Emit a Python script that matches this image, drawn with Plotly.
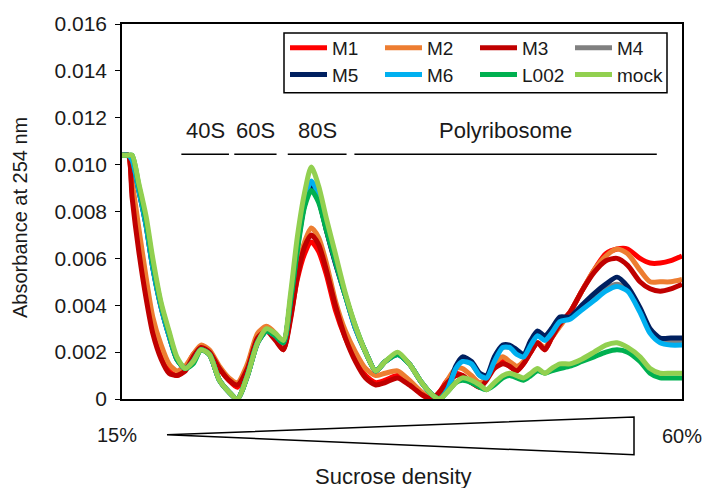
import plotly.graph_objects as go

# Position along the gradient (0 = top of tube, 100 = bottom)
fraction_pos = [0.0, 1.1, 1.8, 3.0, 4.3, 5.5, 7.0, 8.4, 9.8, 11.3,
                12.7, 14.1, 15.6, 17.4, 19.1, 20.6, 22.4, 24.2, 25.8, 27.4,
                28.8, 30.1, 31.3, 32.6, 33.8, 35.1, 36.5, 38.1, 39.9, 41.7,
                43.5, 45.3, 47.0, 49.2, 51.3, 53.5, 55.3, 56.7, 58.1, 59.6,
                60.8, 62.4, 63.9, 65.1, 66.5, 68.0, 69.2, 70.5, 71.7, 73.0,
                74.2, 75.5, 76.7, 78.2, 80.0, 82.1, 84.3, 86.4, 88.4, 90.3,
                92.5, 94.3, 96.1, 98.0, 100.0]

m1 = [0.0104, 0.0104, 0.0089, 0.0067, 0.0046, 0.0030, 0.0019, 0.0012, 0.0010, 0.0013,
      0.0019, 0.0022, 0.0020, 0.0013, 0.0008, 0.0005, 0.0014, 0.0027, 0.0030, 0.0026,
      0.0021, 0.0035, 0.0051, 0.0062, 0.0067, 0.0063, 0.0053, 0.0038, 0.0026, 0.0017,
      0.0010, 0.0007, 0.0008, 0.0010, 0.0007, 0.0002, 0.0000, 0.0003, 0.0008, 0.0011,
      0.0010, 0.0007, 0.0005, 0.0009, 0.0014, 0.0016, 0.0014, 0.0012, 0.0015, 0.0020,
      0.0024, 0.0021, 0.0026, 0.0032, 0.0037, 0.0046, 0.0055, 0.0062, 0.0064, 0.0064,
      0.0060, 0.0058, 0.0058, 0.0059, 0.0061]

m2 = [0.0104, 0.0104, 0.0093, 0.0073, 0.0052, 0.0035, 0.0023, 0.0015, 0.0012, 0.0014,
      0.0019, 0.0023, 0.0021, 0.0014, 0.0009, 0.0007, 0.0015, 0.0028, 0.0031, 0.0028,
      0.0023, 0.0036, 0.0054, 0.0067, 0.0073, 0.0069, 0.0058, 0.0042, 0.0029, 0.0020,
      0.0013, 0.0010, 0.0011, 0.0012, 0.0008, 0.0003, 0.0000, 0.0002, 0.0008, 0.0013,
      0.0013, 0.0010, 0.0007, 0.0009, 0.0015, 0.0018, 0.0016, 0.0014, 0.0016, 0.0021,
      0.0024, 0.0022, 0.0026, 0.0031, 0.0037, 0.0046, 0.0055, 0.0061, 0.0064, 0.0062,
      0.0055, 0.0050, 0.0050, 0.0050, 0.0051]

m3 = [0.0104, 0.0104, 0.0086, 0.0063, 0.0043, 0.0028, 0.0017, 0.0011, 0.0010, 0.0012,
      0.0018, 0.0022, 0.0020, 0.0013, 0.0008, 0.0006, 0.0013, 0.0026, 0.0029, 0.0025,
      0.0021, 0.0034, 0.0052, 0.0065, 0.0070, 0.0066, 0.0055, 0.0040, 0.0026, 0.0016,
      0.0009, 0.0006, 0.0007, 0.0009, 0.0006, 0.0002, 0.0000, 0.0003, 0.0007, 0.0010,
      0.0010, 0.0007, 0.0005, 0.0008, 0.0013, 0.0015, 0.0014, 0.0012, 0.0015, 0.0020,
      0.0024, 0.0021, 0.0026, 0.0032, 0.0037, 0.0046, 0.0054, 0.0059, 0.0060, 0.0057,
      0.0050, 0.0047, 0.0046, 0.0047, 0.0049]

m4 = [0.0104, 0.0104, 0.0102, 0.0089, 0.0074, 0.0056, 0.0039, 0.0027, 0.0017, 0.0013,
      0.0016, 0.0021, 0.0019, 0.0008, 0.0003, 0.0000, 0.0010, 0.0024, 0.0029, 0.0027,
      0.0024, 0.0042, 0.0064, 0.0083, 0.0090, 0.0085, 0.0072, 0.0058, 0.0044, 0.0030,
      0.0020, 0.0012, 0.0016, 0.0019, 0.0015, 0.0007, 0.0002, 0.0000, 0.0004, 0.0013,
      0.0017, 0.0015, 0.0010, 0.0009, 0.0017, 0.0022, 0.0022, 0.0020, 0.0018, 0.0024,
      0.0028, 0.0026, 0.0029, 0.0034, 0.0035, 0.0039, 0.0043, 0.0047, 0.0049, 0.0047,
      0.0038, 0.0029, 0.0025, 0.0025, 0.0025]

m5 = [0.0104, 0.0104, 0.0102, 0.0089, 0.0074, 0.0056, 0.0039, 0.0027, 0.0017, 0.0013,
      0.0016, 0.0021, 0.0019, 0.0008, 0.0003, 0.0000, 0.0010, 0.0024, 0.0029, 0.0027,
      0.0024, 0.0042, 0.0065, 0.0083, 0.0091, 0.0085, 0.0072, 0.0058, 0.0044, 0.0030,
      0.0020, 0.0012, 0.0016, 0.0019, 0.0015, 0.0007, 0.0002, 0.0000, 0.0004, 0.0014,
      0.0018, 0.0016, 0.0011, 0.0010, 0.0018, 0.0023, 0.0023, 0.0021, 0.0019, 0.0025,
      0.0029, 0.0027, 0.0030, 0.0035, 0.0035, 0.0040, 0.0045, 0.0049, 0.0052, 0.0048,
      0.0039, 0.0030, 0.0026, 0.0026, 0.0026]

m6 = [0.0104, 0.0104, 0.0102, 0.0089, 0.0074, 0.0056, 0.0039, 0.0027, 0.0017, 0.0013,
      0.0016, 0.0021, 0.0019, 0.0008, 0.0003, 0.0000, 0.0010, 0.0024, 0.0029, 0.0027,
      0.0024, 0.0043, 0.0066, 0.0085, 0.0093, 0.0087, 0.0073, 0.0059, 0.0044, 0.0030,
      0.0020, 0.0012, 0.0016, 0.0019, 0.0015, 0.0007, 0.0002, 0.0000, 0.0004, 0.0013,
      0.0016, 0.0015, 0.0010, 0.0009, 0.0016, 0.0022, 0.0022, 0.0019, 0.0018, 0.0023,
      0.0027, 0.0025, 0.0028, 0.0033, 0.0034, 0.0038, 0.0042, 0.0046, 0.0048, 0.0046,
      0.0037, 0.0028, 0.0024, 0.0023, 0.0023]

l002 = [0.0104, 0.0104, 0.0104, 0.0091, 0.0076, 0.0058, 0.0040, 0.0028, 0.0017, 0.0013,
        0.0015, 0.0021, 0.0019, 0.0008, 0.0003, 0.0000, 0.0010, 0.0024, 0.0029, 0.0027,
        0.0024, 0.0042, 0.0063, 0.0082, 0.0089, 0.0084, 0.0072, 0.0059, 0.0044, 0.0031,
        0.0020, 0.0012, 0.0016, 0.0019, 0.0015, 0.0007, 0.0002, 0.0000, 0.0003, 0.0007,
        0.0008, 0.0007, 0.0005, 0.0004, 0.0006, 0.0009, 0.0010, 0.0009, 0.0008, 0.0010,
        0.0012, 0.0011, 0.0012, 0.0013, 0.0014, 0.0016, 0.0018, 0.0020, 0.0021, 0.0020,
        0.0016, 0.0011, 0.0009, 0.0009, 0.0009]

mock = [0.0104, 0.0104, 0.0104, 0.0092, 0.0078, 0.0060, 0.0041, 0.0029, 0.0018, 0.0013,
        0.0016, 0.0021, 0.0019, 0.0008, 0.0003, 0.0000, 0.0010, 0.0024, 0.0030, 0.0028,
        0.0025, 0.0045, 0.0069, 0.0088, 0.0099, 0.0091, 0.0077, 0.0062, 0.0045, 0.0031,
        0.0020, 0.0012, 0.0016, 0.0020, 0.0015, 0.0007, 0.0002, 0.0000, 0.0003, 0.0007,
        0.0009, 0.0008, 0.0006, 0.0004, 0.0007, 0.0010, 0.0011, 0.0010, 0.0009, 0.0011,
        0.0013, 0.0011, 0.0013, 0.0015, 0.0015, 0.0017, 0.0020, 0.0023, 0.0024, 0.0022,
        0.0018, 0.0013, 0.0011, 0.0011, 0.0011]

series_names = ["M1", "M2", "M3", "M4", "M5", "M6", "L002", "mock"]
series_values = [m1, m2, m3, m4, m5, m6, l002, mock]

# Ribosome fractions along the gradient
band_labels = ["40S", "60S", "80S", "Polyribosome"]
band_start = [10.6, 20.05, 29.6, 41.5]
band_end = [19.1, 27.6, 40.1, 95.5]

y_tick_vals = [0, 0.002, 0.004, 0.006, 0.008, 0.010, 0.012, 0.014, 0.016]
y_tick_text = ["0", "0.002", "0.004", "0.006", "0.008", "0.010", "0.012", "0.014", "0.016"]

gradient_labels = ["15%", "60%"]

# ---- styling ----
FONT = "Liberation Sans, Arial, sans-serif"
TXT = "#1a1a1a"
colors = {"M1": "#FF0000", "M2": "#ED7D31", "M3": "#C00000", "M4": "#808080",
          "M5": "#002060", "M6": "#00B0F0", "L002": "#00B050", "mock": "#92D050"}

W, H = 705, 488
ML, MR, MT, MB = 122, 23, 22, 89
PW, PH = W - ML - MR, H - MT - MB


def px(x):
    return (x - ML) / PW


def py(y):
    return (H - MB - y) / PH


fig = go.Figure()
for i, (name, vals) in enumerate(zip(series_names, series_values)):
    fig.add_trace(go.Scatter(
        x=fraction_pos, y=vals, name=name, mode="lines",
        line=dict(color=colors[name], width=5, shape="spline", smoothing=0.7),
        legend="legend" if i < 4 else "legend2",
        hoverinfo="skip",
    ))

legend_common = dict(orientation="h", xanchor="left", yanchor="middle",
                     bgcolor="rgba(0,0,0,0)", borderwidth=0,
                     font=dict(family=FONT, size=19, color=TXT),
                     entrywidth=43, entrywidthmode="pixels",
                     tracegroupgap=0, itemwidth=37)

fig.update_layout(
    width=W, height=H,
    margin=dict(l=ML, r=MR, t=MT, b=MB),
    paper_bgcolor="white", plot_bgcolor="white",
    font=dict(family=FONT, color=TXT),
    legend=dict(x=px(285), y=py(46), **legend_common),
    legend2=dict(x=px(285), y=py(73), **legend_common),
    xaxis=dict(range=[0, 100], showticklabels=False, ticks="", showgrid=False,
               zeroline=False, showline=True, linecolor="black", linewidth=1.5,
               mirror=True),
    yaxis=dict(range=[0, 0.016], tickvals=y_tick_vals, ticktext=y_tick_text,
               ticks="outside", ticklen=5, tickwidth=1, tickcolor="black",
               ticklabelstandoff=4,
               tickfont=dict(family=FONT, size=21, color=TXT),
               showgrid=False, zeroline=False, showline=True, linecolor="black",
               linewidth=1.5, mirror=True),
)

# Legend frame
fig.add_shape(type="rect", xref="paper", yref="paper",
              x0=px(284), x1=px(667), y0=py(91), y1=py(31),
              line=dict(color="black", width=1.5), fillcolor="rgba(0,0,0,0)")

# Fraction bands with labels
for lab, s, e in zip(band_labels, band_start, band_end):
    fig.add_shape(type="line", xref="x", yref="paper", x0=s, x1=e,
                  y0=py(153), y1=py(153), line=dict(color="black", width=1.5))
    fig.add_annotation(x=(s + e) / 2, y=py(129), xref="x", yref="paper",
                       text=lab, showarrow=False,
                       font=dict(family=FONT, size=22, color=TXT),
                       xanchor="center", yanchor="middle")

# Y-axis title
fig.add_annotation(x=px(20), y=py(217), xref="paper", yref="paper",
                   text="Absorbance at 254 nm", textangle=-90, showarrow=False,
                   font=dict(family=FONT, size=20, color=TXT),
                   xanchor="center", yanchor="middle")

# Sucrose gradient wedge
fig.add_shape(type="path", xref="paper", yref="paper",
              path=f"M {px(167)} {py(435)} L {px(634)} {py(417)} L {px(634)} {py(455)} Z",
              line=dict(color="black", width=1.5), fillcolor="white")
fig.add_annotation(x=px(117), y=py(435), xref="paper", yref="paper",
                   text=gradient_labels[0], showarrow=False,
                   font=dict(family=FONT, size=20, color=TXT),
                   xanchor="center", yanchor="middle")
fig.add_annotation(x=px(682), y=py(436), xref="paper", yref="paper",
                   text=gradient_labels[1], showarrow=False,
                   font=dict(family=FONT, size=20, color=TXT),
                   xanchor="center", yanchor="middle")
fig.add_annotation(x=px(393), y=py(477), xref="paper", yref="paper",
                   text="Sucrose density", showarrow=False,
                   font=dict(family=FONT, size=22, color=TXT),
                   xanchor="center", yanchor="middle")

fig.write_html("out.html")
